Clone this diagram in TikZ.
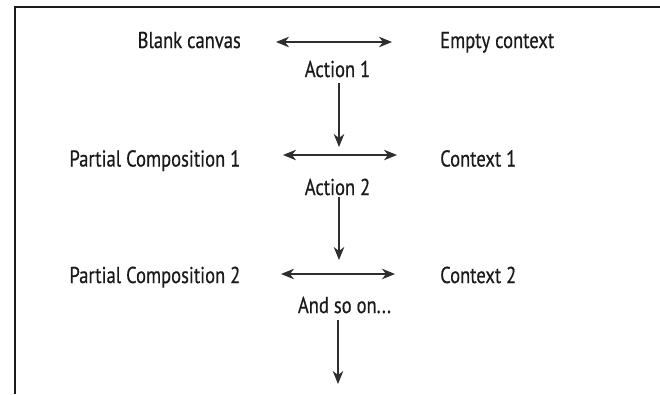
\documentclass[tikz,border=0pt]{standalone}
\usepackage{fontspec}
\setmainfont[FakeStretch=0.81,FakeBold=0.5]{PT Sans}
\usetikzlibrary{arrows.meta}
\definecolor{txt}{HTML}{1A1A1A}
\definecolor{ln}{HTML}{2E2E2E}
\begin{document}
\begin{tikzpicture}[x=1bp,y=-1bp,
  lbl/.style={inner sep=0pt, text height=16bp, text depth=5bp,
              font=\fontsize{23}{27}\selectfont, text=txt},
  lefttxt/.style={lbl, anchor=base east},
  righttxt/.style={lbl, anchor=base west},
  midtxt/.style={lbl, anchor=base},
  conn/.style={draw=ln, line width=1.2bp},
  tip/.style={-{Stealth[length=13bp,width=10.5bp,inset=4bp]}},
  both/.style={{Stealth[length=13bp,width=10.5bp,inset=4bp]}-{Stealth[length=13bp,width=10.5bp,inset=4bp]}}]
\useasboundingbox (0,0) rectangle (660,394);
\draw[line width=1.3bp, draw=txt] (15,394) -- (15,7) -- (660,7);

% row 1
\node[lefttxt]  (bc) at (241,48) {Blank canvas};
\node[righttxt] (ec) at (440,48) {Empty context};
\node[midtxt]   (a1) at (337.5,77) {Action 1};
% row 2
\node[lefttxt]  (p1) at (240.5,166.5) {Partial Composition 1};
\node[righttxt] (c1) at (440,166.5) {Context 1};
\node[midtxt]   (a2) at (337.5,195) {Action 2};
% row 3
\node[lefttxt]  (p2) at (240.5,283) {Partial Composition 2};
\node[righttxt] (c2) at (440,283) {Context 2};
\node[midtxt]   (a3) at (344.5,313) {And so on...};

% levels of the horizontal connectors and tips of the vertical ones
\coordinate (h1) at (339,42);
\coordinate (h2) at (339,155);
\coordinate (h3) at (339,274);
\coordinate (t1) at (339,147);
\coordinate (t2) at (339,260);
\coordinate (t3) at (338,384);

% horizontal two-way connectors
\draw[conn,both,shorten <=35bp,shorten >=48bp] (bc.east |- h1) -- (ec.west |- h1);
\draw[conn,both,shorten <=42.5bp,shorten >=43bp] (p1.east |- h2) -- (c1.west |- h2);
\draw[conn,both,shorten <=40.5bp,shorten >=45bp] (p2.east |- h3) -- (c2.west |- h3);

% vertical connectors
\draw[conn,tip,shorten <=1bp] (a1.south -| t1) -- (t1);
\draw[conn,tip,shorten <=-3bp] (a2.south -| t2) -- (t2);
\draw[conn,tip,shorten <=2bp] (a3.south -| t3) -- (t3);
\end{tikzpicture}
\end{document}
